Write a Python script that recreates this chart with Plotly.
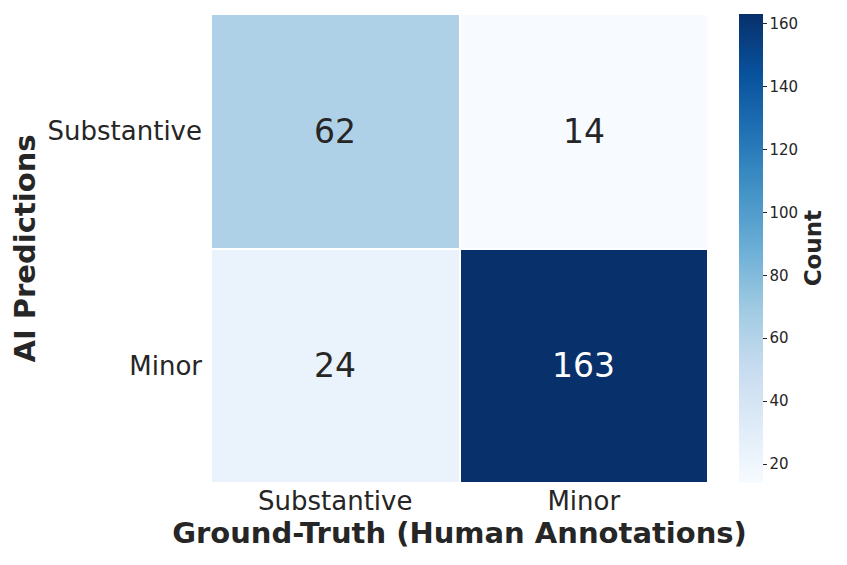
import plotly.graph_objects as go

# confusion matrix: rows = AI predictions, cols = ground truth
pred_labels = ['Substantive', 'Minor']
truth_labels = ['Substantive', 'Minor']
counts = [[62, 14],
          [24, 163]]

blues = ['#f7fbff', '#deebf7', '#c6dbef', '#9ecae1', '#6baed6',
         '#4292c6', '#2171b5', '#08519c', '#08306b']
scale = [[i / (len(blues) - 1), c] for i, c in enumerate(blues)]

zmin = min(min(r) for r in counts)
zmax = max(max(r) for r in counts)

fig = go.Figure()
fig.add_trace(go.Heatmap(
    z=counts, x=truth_labels, y=pred_labels,
    colorscale=scale, zmin=zmin, zmax=zmax,
    xgap=2, ygap=2,
    colorbar=dict(
        x=1.0624, xanchor='left', xref='paper',
        y=0.5, yanchor='middle', len=1, lenmode='fraction',
        thickness=24, thicknessmode='pixels',
        outlinewidth=0,
        tickvals=[20, 40, 60, 80, 100, 120, 140, 160],
        ticks='outside', ticklen=4, tickcolor='#262626',
        tickfont=dict(family='DejaVu Sans', size=15, color='#262626'),
        ypad=0, xpad=0,
    ),
))

mid = (zmin + zmax) / 2
for i, row in enumerate(counts):
    for j, v in enumerate(row):
        fig.add_annotation(
            x=truth_labels[j], y=pred_labels[i], text=str(v), showarrow=False,
            font=dict(family='DejaVu Sans', size=33,
                      color='white' if v > mid else '#262626'),
        )

fig.add_annotation(
    x=1.211, y=0.5, xref='paper', yref='paper', text='<b>Count</b>',
    textangle=-90, showarrow=False, xanchor='center', yanchor='middle',
    font=dict(family='DejaVu Sans', size=23, color='#262626'),
)

fig.update_xaxes(
    showgrid=False, zeroline=False, showline=False, ticks='',
    tickfont=dict(family='DejaVu Sans', size=26, color='#262626'),
    title=dict(text='<b>Ground-Truth (Human Annotations)</b>', standoff=6,
               font=dict(family='DejaVu Sans', size=29, color='#262626')),
)
fig.update_yaxes(
    autorange='reversed', showgrid=False, zeroline=False, showline=False,
    ticks='', ticklabelstandoff=8,
    tickfont=dict(family='DejaVu Sans', size=26, color='#262626'),
    title=dict(text='<b>AI Predictions</b>', standoff=12,
               font=dict(family='DejaVu Sans', size=29, color='#262626')),
)

fig.update_layout(
    width=839, height=557,
    margin=dict(l=203, r=139, t=6, b=82),
    paper_bgcolor='white', plot_bgcolor='white',
)

fig.write_html('out.html')
